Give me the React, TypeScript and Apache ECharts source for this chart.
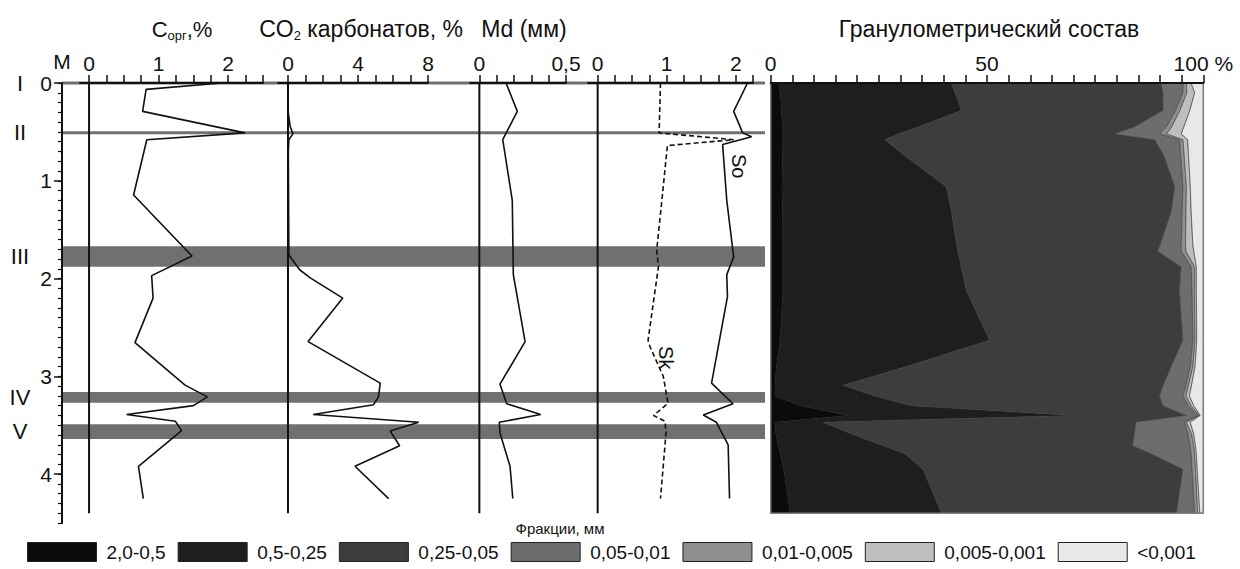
import React, { useEffect, useRef } from 'react';
import * as echarts from 'echarts';

const FONT = "'Liberation Sans', Arial, Helvetica, sans-serif";
const INK = '#111111';

// ---- depth axis ----
const depthTicks = [0, 1, 2, 3, 4];
const depthMax = 4.5;
const profileBottom = 4.4;

// ---- marker horizons ----
const layerNames = ['I', 'II', 'III', 'IV', 'V'];
const layerTop = [0, 0.51, 1.67, 3.16, 3.49];
const layerBottom = [0, 0.51, 1.88, 3.27, 3.64];

// ---- C org, % ----
const corgTickLabels = [0, 1, 2];
const corgDepth = [0, 0.065, 0.29, 0.51, 0.58, 1.145, 1.77, 1.97, 2.2, 2.655, 3.09, 3.21, 3.3, 3.39, 3.46, 3.555, 3.92, 4.25];
const corgValue = [1.91, 0.82, 0.77, 2.24, 0.83, 0.64, 1.48, 0.9, 0.92, 0.66, 1.38, 1.7, 1.5, 0.54, 1.24, 1.33, 0.71, 0.78];

// ---- CO2 carbonates, % ----
const co2TickLabels = [0, 4, 8];
const co2Depth = [0, 0.28, 0.44, 0.52, 0.58, 0.7, 1.76, 1.91, 1.99, 2.2, 2.645, 3.07, 3.21, 3.29, 3.39, 3.47, 3.56, 3.71, 3.92, 4.25];
const co2Value = [0, 0, 0.12, 0.28, 0.05, 0.02, 0.05, 0.67, 1.25, 3.13, 1.15, 5.27, 5.17, 4.89, 1.44, 7.47, 5.84, 6.38, 3.83, 5.75];

// ---- Md, mm ----
const mdTickLabels = [0, 0.5];
const mdDepth = [0, 0.29, 0.58, 1.2, 1.96, 2.645, 3.08, 3.28, 3.39, 3.47, 3.58, 3.92, 4.25];
const mdValue = [0.154, 0.219, 0.135, 0.19, 0.196, 0.264, 0.119, 0.158, 0.354, 0.115, 0.119, 0.177, 0.193];

// ---- So / Sk ----
const sTickLabels = [0, 1, 2];
const soDepth = [0, 0.29, 0.51, 0.55, 0.63, 1.2, 1.78, 1.96, 2.185, 3.07, 3.28, 3.395, 3.47, 3.7, 4.25];
const soValue = [2.17, 1.97, 2.1, 2.23, 1.81, 1.87, 1.97, 1.87, 1.88, 1.65, 1.96, 1.53, 1.72, 1.89, 1.91];
const skDepth = [0, 0.51, 0.58, 0.64, 1.2, 1.71, 1.88, 2.63, 2.7, 3.0, 3.275, 3.4, 3.46, 3.58, 4.25];
const skValue = [0.91, 0.89, 1.97, 1.01, 0.93, 0.855, 0.88, 0.73, 0.76, 0.95, 1.02, 0.81, 0.975, 0.99, 0.91];
const curveNames = ['So', 'Sk'];
const curveLabelValue = [2.05, 0.99];
const curveLabelDepth = [0.85, 2.81];

// ---- granulometric composition, % ----
const granTickLabels = [0, 50, 100];
const granDepth = [0, 0.1, 0.28, 0.45, 0.52, 0.58, 0.75, 1.06, 1.32, 1.66, 1.72, 1.88, 2.13, 2.63, 2.9, 3.09, 3.2, 3.3, 3.4, 3.47, 3.59, 3.71, 3.79, 3.95, 4.4];
const fractionNames = ['2,0-0,5', '0,5-0,25', '0,25-0,05', '0,05-0,01', '0,01-0,005', '0,005-0,001', '<0,001'];
const frac20_05 = [1.8, 2.2, 2.5, 2.7, 2.8, 2.8, 2.7, 2.6, 2.7, 2.8, 2.8, 2.8, 2.8, 2.2, 1.3, 1.0, 1.0, 7.0, 18.0, 1.0, 1.2, 1.8, 2.2, 3.0, 4.5];
const frac05_025 = [40.0, 40.4, 41.6, 31.4, 26.7, 23.6, 28.5, 38.0, 39.1, 40.2, 40.5, 41.2, 42.5, 48.4, 30.1, 15.8, 23.0, 25.5, 52.3, 11.1, 17.6, 24.2, 28.8, 32.2, 35.0];
const frac025_005 = [48.5, 48.1, 46.6, 50.0, 50.0, 62.4, 59.8, 52.8, 50.8, 47.0, 46.2, 50.9, 49.2, 44.7, 61.2, 74.0, 65.9, 58.2, 25.8, 72.4, 65.3, 57.7, 56.9, 60.1, 54.3];
const frac005_001 = [5.0, 4.6, 2.9, 7.4, 10.4, 5.7, 3.8, 1.9, 2.5, 4.9, 5.4, 2.3, 2.9, 2.3, 4.4, 5.2, 5.4, 5.8, 2.7, 11.2, 12.4, 13.2, 9.3, 2.1, 4.2];
const frac001_0005 = [0.8, 0.9, 1.0, 1.2, 1.6, 0.8, 0.8, 0.8, 0.9, 1.0, 1.1, 0.8, 0.6, 0.5, 0.6, 0.6, 0.7, 0.7, 0.3, 0.4, 0.8, 0.9, 0.8, 0.8, 0.7];
const frac0005_0001 = [1.1, 1.8, 2.3, 2.8, 3.4, 1.1, 1.0, 0.9, 1.2, 1.7, 1.8, 0.4, 0.4, 0.4, 0.5, 0.7, 0.8, 0.6, 0.2, 0.9, 0.5, 0.4, 0.4, 0.4, 0.5];
const fracLt0001 = [2.8, 2.0, 3.1, 4.5, 5.1, 3.6, 3.4, 3.0, 2.8, 2.4, 2.2, 1.6, 1.6, 1.5, 1.9, 2.7, 3.2, 2.2, 0.7, 3.0, 2.2, 1.8, 1.6, 1.4, 0.8];
const fractions = [frac20_05, frac05_025, frac025_005, frac005_001, frac001_0005, frac0005_0001, fracLt0001];
const fractionColors = ['#0b0b0b', '#1e1e1e', '#3d3d3d', '#6d6d6d', '#8e8e8e', '#bebebe', '#e8e8e8'];

const TOP = 83;
const H = 440;

const pairs = (depth: number[], value: number[]) => depth.map((d, i) => [value[i], d]);
const steps = (from: number, to: number, step: number) => {
  const out: number[] = [];
  const n = Math.round((to - from) / step);
  for (let i = 0; i <= n; i++) out.push(Math.round((from + i * step) * 1000) / 1000);
  return out;
};
const comma = (v: number) => String(v).replace('.', ',');

function topAxis(gridIndex: number, min: number, max: number, ticks: number[], labels: number[], formatter?: any) {
  return {
    type: 'value', gridIndex, position: 'top', min, max, z: 10,
    axisLine: { show: true, onZero: false, lineStyle: { color: INK, width: 2 } },
    axisTick: { show: true, customValues: ticks, length: 8, inside: false, lineStyle: { color: INK, width: 1.5 } },
    axisLabel: { show: true, customValues: labels, margin: 9, color: INK, fontSize: 21, fontFamily: FONT, formatter },
    splitLine: { show: false },
    axisPointer: { show: false },
  };
}
const hiddenDepth = (gridIndex: number) => ({ type: 'value', gridIndex, min: 0, max: depthMax, inverse: true, show: false });

const profile = (name: string, xi: number, yi: number, depth: number[], value: number[], dashed = false) => ({
  type: 'line', name, xAxisIndex: xi, yAxisIndex: yi, data: pairs(depth, value),
  symbol: 'none', silent: true, z: 5,
  lineStyle: { color: INK, width: 1.6, type: dashed ? [5, 3] : 'solid' },
});
const zeroLine = (xi: number, yi: number) => ({
  type: 'line', xAxisIndex: xi, yAxisIndex: yi, data: [[0, 0], [0, profileBottom]],
  symbol: 'none', silent: true, z: 4, lineStyle: { color: INK, width: 2 },
});

function buildOption(): any {
  const grids = [
    { left: 62, top: TOP, width: 703, height: H },
    { left: 80, top: TOP, width: 183, height: H },
    { left: 278, top: TOP, width: 150, height: H },
    { left: 470, top: TOP, width: 96, height: H },
    { left: 588, top: TOP, width: 165, height: H },
    { left: 770.7, top: TOP, width: 432.6, height: H },
    { left: 8, top: TOP, width: 24, height: H },
  ].map((g) => ({ ...g, containLabel: false, outerBoundsMode: 'none', show: false }));

  const xAxis = [
    { type: 'value', gridIndex: 0, min: 0, max: 1, show: false },
    topAxis(1, -0.13, 2.5, steps(0, 2.5, 0.25), corgTickLabels),
    topAxis(2, -0.57, 8, steps(0, 8, 1), co2TickLabels),
    topAxis(3, -0.054, 0.5, steps(0, 0.5, 0.1), mdTickLabels, comma),
    topAxis(4, -0.14, 2.25, steps(0, 2.25, 0.25), sTickLabels),
    topAxis(5, 0, 100, steps(0, 100, 5), granTickLabels, (v: number) => (v === 100 ? '100 %' : String(v))),
    { type: 'value', gridIndex: 6, min: 0, max: 1, show: false },
  ];

  const yAxis = [
    {
      type: 'value', gridIndex: 0, min: 0, max: depthMax, inverse: true, position: 'left', z: 10,
      axisLine: { show: true, onZero: false, lineStyle: { color: INK, width: 2 } },
      axisTick: { show: true, customValues: depthTicks, length: 8, lineStyle: { color: INK, width: 1.5 } },
      axisLabel: { show: true, customValues: depthTicks, margin: 10, fontSize: 21, color: INK, fontFamily: FONT },
      splitLine: { show: false },
    },
    {
      type: 'value', gridIndex: 0, min: 0, max: depthMax, inverse: true, position: 'left', offset: 0, z: 10,
      axisLine: { show: false },
      axisTick: { show: true, customValues: steps(0, depthMax, 0.1), length: 4, lineStyle: { color: INK, width: 1.2 } },
      axisLabel: { show: false },
      splitLine: { show: false },
    },
    hiddenDepth(1), hiddenDepth(2), hiddenDepth(3), hiddenDepth(4), hiddenDepth(5), hiddenDepth(6),
  ];

  const series: any[] = [];

  // marker horizons (lines I, II and bands III-V)
  series.push({
    type: 'custom', name: 'horizons', xAxisIndex: 0, yAxisIndex: 0, silent: true, z: 1,
    data: layerNames.map((n, i) => [0.5, layerTop[i], layerBottom[i]]),
    encode: { x: 0, y: 1 },
    renderItem: (params: any, api: any) => {
      const p0 = api.coord([0, api.value(1)]);
      const p1 = api.coord([1, api.value(2)]);
      let y = p0[1];
      let h = p1[1] - p0[1];
      if (h < 3) { y = (p0[1] + p1[1]) / 2 - 1.5; h = 3; }
      return { type: 'rect', shape: { x: p0[0], y, width: p1[0] - p0[0], height: h }, style: { fill: '#707070' } };
    },
  });

  series.push(zeroLine(1, 2), profile('Cорг', 1, 2, corgDepth, corgValue));
  series.push(zeroLine(2, 3), profile('CO2', 2, 3, co2Depth, co2Value));
  series.push(zeroLine(3, 4), profile('Md', 3, 4, mdDepth, mdValue));
  series.push(zeroLine(4, 5), profile('So', 4, 5, soDepth, soValue), profile('Sk', 4, 5, skDepth, skValue, true));

  // granulometric stacked areas
  fractionNames.forEach((name, k) => {
    series.push({
      type: 'custom', name, xAxisIndex: 5, yAxisIndex: 6, silent: true, z: 2,
      itemStyle: { color: fractionColors[k] },
      data: [[50, 0]], encode: { x: 0, y: 1 },
      renderItem: (params: any, api: any) => {
        const left: number[][] = [];
        const right: number[][] = [];
        granDepth.forEach((d, i) => {
          let cum = 0;
          for (let j = 0; j < k; j++) cum += fractions[j][i];
          const end = k === fractions.length - 1 ? 100 : Math.min(100, cum + fractions[k][i]);
          left.push(api.coord([cum, d]));
          right.push(api.coord([end, d]));
        });
        return {
          type: 'polygon',
          shape: { points: left.concat(right.reverse()) },
          style: { fill: fractionColors[k], stroke: k >= 3 ? '#4a4a4a' : fractionColors[k], lineWidth: k >= 3 ? 0.7 : 0.5 },
        };
      },
    });
  });
  series.push({
    type: 'custom', name: 'frame', xAxisIndex: 5, yAxisIndex: 6, silent: true, z: 3,
    data: [[50, 0]], encode: { x: 0, y: 1 },
    renderItem: (params: any, api: any) => {
      const a = api.coord([0, 0]);
      const b = api.coord([100, profileBottom]);
      return { type: 'rect', shape: { x: a[0], y: a[1], width: b[0] - a[0], height: b[1] - a[1] }, style: { fill: 'none', stroke: '#808080', lineWidth: 1.5 } };
    },
  });

  const labelStyle = { color: INK, fontFamily: FONT, textBorderWidth: 0, textBorderColor: 'transparent', opacity: 1 };
  // roman numerals of horizons
  series.push({
    type: 'scatter', name: 'horizonLabels', xAxisIndex: 6, yAxisIndex: 7, silent: true, z: 6,
    symbolSize: 1, itemStyle: { color: 'rgba(255,255,255,0)' },
    data: layerNames.map((n, i) => ({ name: n, value: [0.5, (layerTop[i] + layerBottom[i]) / 2] })),
    label: { show: true, position: 'inside', formatter: '{b}', fontSize: 22, ...labelStyle },
  });
  // So / Sk curve labels
  series.push({
    type: 'scatter', name: 'curveLabels', xAxisIndex: 4, yAxisIndex: 5, silent: true, z: 6,
    symbolSize: 1, itemStyle: { color: 'rgba(255,255,255,0)' },
    data: curveNames.map((n, i) => ({ name: n, value: [curveLabelValue[i], curveLabelDepth[i]] })),
    label: { show: true, position: 'inside', formatter: '{b}', rotate: -90, fontSize: 20, ...labelStyle },
  });

  const titleStyle = { fontSize: 23, fontFamily: FONT, fill: INK };
  const graphic = [
    {
      type: 'text', x: 182, y: 29, silent: true,
      style: {
        text: '{a|C}{s|орг}{a|,%}', align: 'center', verticalAlign: 'middle',
        rich: {
          a: { ...titleStyle, fontSize: 22, lineHeight: 26 },
          s: { fontSize: 13, fontFamily: FONT, fill: INK, lineHeight: 14, verticalAlign: 'bottom' },
        },
      },
    },
    {
      type: 'text', x: 361, y: 29, silent: true,
      style: {
        text: '{a|CO}{s|2}{a| карбонатов, %}', align: 'center', verticalAlign: 'middle',
        rich: {
          a: { ...titleStyle, lineHeight: 26 },
          s: { fontSize: 13, fontFamily: FONT, fill: INK, lineHeight: 21, verticalAlign: 'bottom' },
        },
      },
    },
    { type: 'text', x: 524, y: 29, silent: true, style: { text: 'Md (мм)', align: 'center', verticalAlign: 'middle', ...titleStyle } },
    { type: 'text', x: 989, y: 29, silent: true, style: { text: 'Гранулометрический состав', align: 'center', verticalAlign: 'middle', ...titleStyle } },
    { type: 'text', x: 62, y: 61, silent: true, style: { text: 'M', align: 'center', verticalAlign: 'middle', fontSize: 21, fontFamily: FONT, fill: INK } },
    { type: 'text', x: 560, y: 528, silent: true, style: { text: 'Фракции, мм', align: 'center', verticalAlign: 'middle', fontSize: 15, fontFamily: FONT, fill: INK } },
  ];

  return {
    animation: false,
    backgroundColor: '#ffffff',
    textStyle: { fontFamily: FONT },
    grid: grids,
    xAxis,
    yAxis,
    series,
    graphic,
    legend: {
      show: true, left: 22, top: 537, orient: 'horizontal',
      itemWidth: 69, itemHeight: 19, itemGap: 12,
      selectedMode: false,
      data: fractionNames.map((name) => ({ name, icon: 'rect' })),
      itemStyle: { borderColor: '#222222', borderWidth: 1 },
      textStyle: { fontSize: 19, color: INK, fontFamily: FONT, padding: [0, 0, 0, 5] },
    },
  };
}

export default function App() {
  const ref = useRef<HTMLDivElement>(null);
  useEffect(() => {
    if (!ref.current) return;
    const chart = echarts.init(ref.current, null, { renderer: 'svg' });
    chart.setOption(buildOption());
    return () => chart.dispose();
  }, []);
  return (
    <div
      ref={ref}
      style={{ position: 'fixed', left: 0, top: 0, width: 1240, height: 569, background: '#ffffff' }}
    />
  );
}
